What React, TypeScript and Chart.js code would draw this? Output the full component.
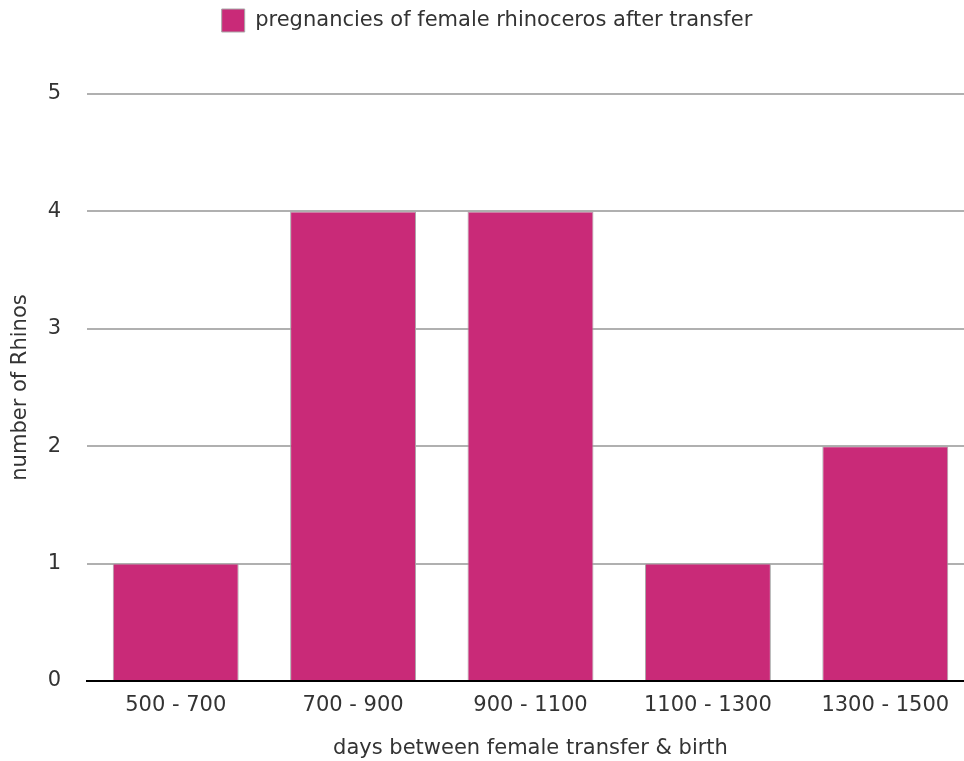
import React, { useEffect, useRef } from "react";
import { Chart, registerables } from "chart.js";

Chart.register(...registerables);

const categories = ["500 - 700", "700 - 900", "900 - 1100", "1100 - 1300", "1300 - 1500"];
const rhinoCounts = [1, 4, 4, 1, 2];
const seriesLabel = "pregnancies of female rhinoceros after transfer";
const xTitle = "days between female transfer & birth";
const yTitle = "number of Rhinos";

export default function App() {
  const ref = useRef<HTMLCanvasElement | null>(null);
  useEffect(() => {
    if (!ref.current) return;
    const font = "'DejaVu Sans', Verdana, sans-serif";
    const legendSpacer = {
      id: "legendSpacer",
      beforeInit(chart: any) {
        const lg = chart.legend;
        if (!lg) return;
        const orig = lg.fit;
        lg.fit = function () {
          orig.call(this);
          this.height += 52;
        };
      },
    };
    const chart = new Chart(ref.current, {
      type: "bar",
      data: {
        labels: categories,
        datasets: [
          {
            label: seriesLabel,
            data: rhinoCounts,
            backgroundColor: "#C92A78",
            borderColor: "#a8a8a8",
            borderWidth: 1,
            categoryPercentage: 1,
            barPercentage: 0.71,
          },
        ],
      },
      options: {
        responsive: false,
        animation: false,
        layout: { padding: { top: 0, left: 0, right: 0, bottom: 0 } },
        plugins: {
          tooltip: { enabled: false },
          legend: {
            display: true,
            position: "top",
            labels: {
              color: "#333",
              font: { family: font, size: 21 },
              boxWidth: 23,
              boxHeight: 23,
              padding: 9,
            },
          },
        },
        scales: {
          x: {
            grid: { display: false, drawTicks: false },
            border: { display: true, color: "#000", width: 2 },
            ticks: { color: "#333", font: { family: font, size: 21 }, padding: 12, maxRotation: 0 },
            title: { display: true, text: xTitle, color: "#333", font: { family: font, size: 21 }, padding: { top: 13, bottom: 0 } },
            afterFit: (s: any) => { s.height = 80; },
          },
          y: {
            min: 0,
            max: 5,
            ticks: { stepSize: 1, color: "#333", font: { family: font, size: 21 }, padding: 26 },
            grid: { color: "#b0b0b0", lineWidth: 2, drawTicks: false },
            border: { display: false },
            title: { display: true, text: yTitle, color: "#333", font: { family: font, size: 21 }, padding: { top: 8, bottom: 0 } },
            afterFit: (s: any) => { s.width = 87; },
          },
        },
      },
      plugins: [legendSpacer],
    });
    return () => chart.destroy();
  }, []);
  return (
    <div style={{ position: "absolute", left: 0, top: 0, width: 964, height: 761, overflow: "hidden", background: "#fff" }}>
      <canvas ref={ref} width={974} height={761} style={{ display: "block" }} />
    </div>
  );
}
